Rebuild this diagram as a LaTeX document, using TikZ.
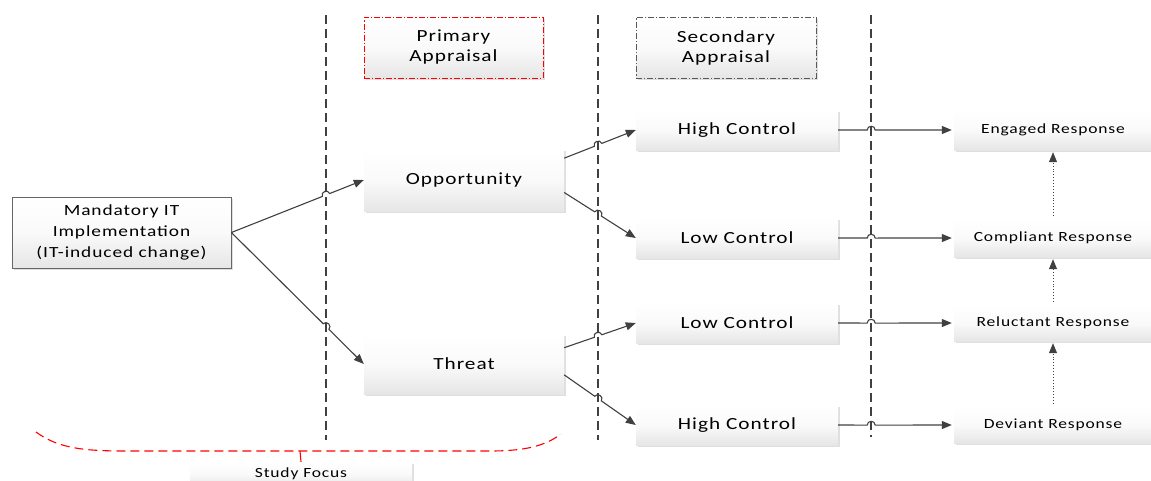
\documentclass[tikz,border=0pt]{standalone}
\usepackage{fontspec}
\setmainfont[LetterSpace=6,FakeStretch=1.25]{Carlito}
\usetikzlibrary{arrows.meta,calc,shadows}
\definecolor{lineg}{HTML}{404040}
\definecolor{boxbot}{HTML}{E6E6E6}
\tikzset{
  gbox/.style={rectangle, inner sep=0pt, top color=white, bottom color=boxbot, middle color=gray!4,
    drop shadow={shadow xshift=1.5pt, shadow yshift=-1.5pt, opacity=0.25, fill=gray},
    align=center, text=black},
  conn/.style={draw=lineg, line width=1.1pt, -{Triangle[length=10pt,width=8pt]}},
  dotarrow/.style={draw=lineg, line width=0.9pt, dotted, -{Triangle[length=10pt,width=8pt]}, shorten >=2pt},
  vline/.style={draw=lineg, line width=1.2pt, dash pattern=on 9pt off 5pt},
  dashdot/.style={dash pattern=on 6pt off 2pt on 1.2pt off 2pt, line width=0.9pt},
  bigtxt/.style={font=\fontsize{17}{20}\selectfont},
  resptxt/.style={font=\fontsize{14}{17}\selectfont},
}
\newcommand\hopconn[4]{%
  \coordinate (hx) at (intersection of #1--#2 and #3--#4);
  \draw[conn] (#1) -- ($(hx)!4pt!(#1)$) to[bend left=90,looseness=1.6] ($(hx)!4pt!(#2)$) -- (#2);}
\begin{document}
\begin{tikzpicture}[x=1pt,y=-1pt]
\useasboundingbox (0,0) rectangle (1151,480);
% vertical dashed lines
\coordinate (v1t) at (326,15); \coordinate (v1b) at (326,440);
\coordinate (v2t) at (598,15); \coordinate (v2b) at (598,440);
\coordinate (v3t) at (871,15); \coordinate (v3b) at (871,437);
\draw[vline] (v1t) -- (v1b);
\draw[vline] (v2t) -- (v2b);
\draw[vline] (v3t) -- (v3b);
% nodes
\node[gbox, draw=gray!80!black, line width=0.8pt, minimum width=219pt, minimum height=71pt, font=\fontsize{15.5}{21}\selectfont]
  (mand) at (121.5,232.5) {Mandatory IT\\Implementation\\(IT-induced change)};
\node[gbox, draw=red, dashdot, minimum width=179pt, minimum height=61pt, bigtxt]
  (prim) at (453.5,47.5) {Primary\\Appraisal};
\node[gbox, draw=gray!70!black, dashdot, minimum width=180pt, minimum height=61pt, bigtxt]
  (sec) at (726,47.5) {Secondary\\Appraisal};
\node[gbox, minimum width=200pt, minimum height=62pt, bigtxt] (opp) at (464,180) {Opportunity};
\node[gbox, minimum width=200pt, minimum height=60pt, bigtxt] (thr) at (464,364) {Threat};
\node[gbox, minimum width=202pt, minimum height=40pt, bigtxt] (hc1) at (737,130) {High Control};
\node[gbox, minimum width=202pt, minimum height=40pt, bigtxt] (lc1) at (737,238) {Low Control};
\node[gbox, minimum width=202pt, minimum height=40pt, bigtxt] (lc2) at (737,323) {Low Control};
\node[gbox, minimum width=202pt, minimum height=40pt, bigtxt] (hc2) at (737,425) {High Control};
\node[gbox, minimum width=198pt, minimum height=40pt, resptxt] (eng) at (1053,130) {Engaged Response};
\node[gbox, minimum width=198pt, minimum height=38pt, resptxt] (comp) at (1053,238) {Compliant Response};
\node[gbox, minimum width=198pt, minimum height=36pt, resptxt] (rel) at (1053,323) {Reluctant Response};
\node[gbox, minimum width=198pt, minimum height=36pt, resptxt] (dev) at (1053,425) {Deviant Response};
\node[gbox, minimum width=222pt, minimum height=24pt, font=\fontsize{14}{16}\selectfont] (study) at (301,474) {Study Focus};
% connector endpoints
\coordinate (m0) at (mand.east);
\coordinate (o0) at (opp.west);
\coordinate (t0) at (thr.west);
\coordinate (o1) at ($(opp.north east)!0.15!(opp.south east)$);
\coordinate (o2) at ($(opp.north east)!0.7!(opp.south east)$);
\coordinate (t1) at ($(thr.north east)!0.23!(thr.south east)$);
\coordinate (t2) at ($(thr.north east)!0.68!(thr.south east)$);
\coordinate (hc1w) at (hc1.west); \coordinate (lc1w) at (lc1.west);
\coordinate (lc2w) at (lc2.west); \coordinate (hc2w) at (hc2.west);
\coordinate (hc1e) at (hc1.east); \coordinate (lc1e) at (lc1.east);
\coordinate (lc2e) at (lc2.east); \coordinate (hc2e) at (hc2.east);
\coordinate (engw) at ([xshift=-2pt]eng.west); \coordinate (compw) at ([xshift=-2pt]comp.west);
\coordinate (relw) at ([xshift=-2pt]rel.west); \coordinate (devw) at ([xshift=-2pt]dev.west);
% connectors with line hops
\hopconn{m0}{o0}{v1t}{v1b}
\hopconn{m0}{t0}{v1t}{v1b}
\hopconn{o1}{hc1w}{v2t}{v2b}
\hopconn{o2}{lc1w}{v2t}{v2b}
\hopconn{t1}{lc2w}{v2t}{v2b}
\hopconn{t2}{hc2w}{v2t}{v2b}
\hopconn{hc1e}{engw}{v3t}{v3b}
\hopconn{lc1e}{compw}{v3t}{v3b}
\hopconn{lc2e}{relw}{v3t}{v3b}
\hopconn{hc2e}{devw}{v3t}{v3b}
% dotted upward arrows
\draw[dotarrow] ([yshift=3pt]comp.north) -- (eng.south);
\draw[dotarrow] ([yshift=3pt]rel.north) -- (comp.south);
\draw[dotarrow] ([yshift=3pt]dev.north) -- (rel.south);
% study focus brace
\coordinate (bl) at (36,432);
\coordinate (br) at (561,434);
\coordinate (bm) at (300,451);
\draw[red, line width=1.1pt, dash pattern=on 9pt off 5pt]
  (bl) .. controls (60,450) and (90,451) .. (130,451) -- (490,451) .. controls (525,451) and (545,446) .. (br);
\draw[red, line width=1.1pt] (bm) -- (study.north);
\end{tikzpicture}
\end{document}
